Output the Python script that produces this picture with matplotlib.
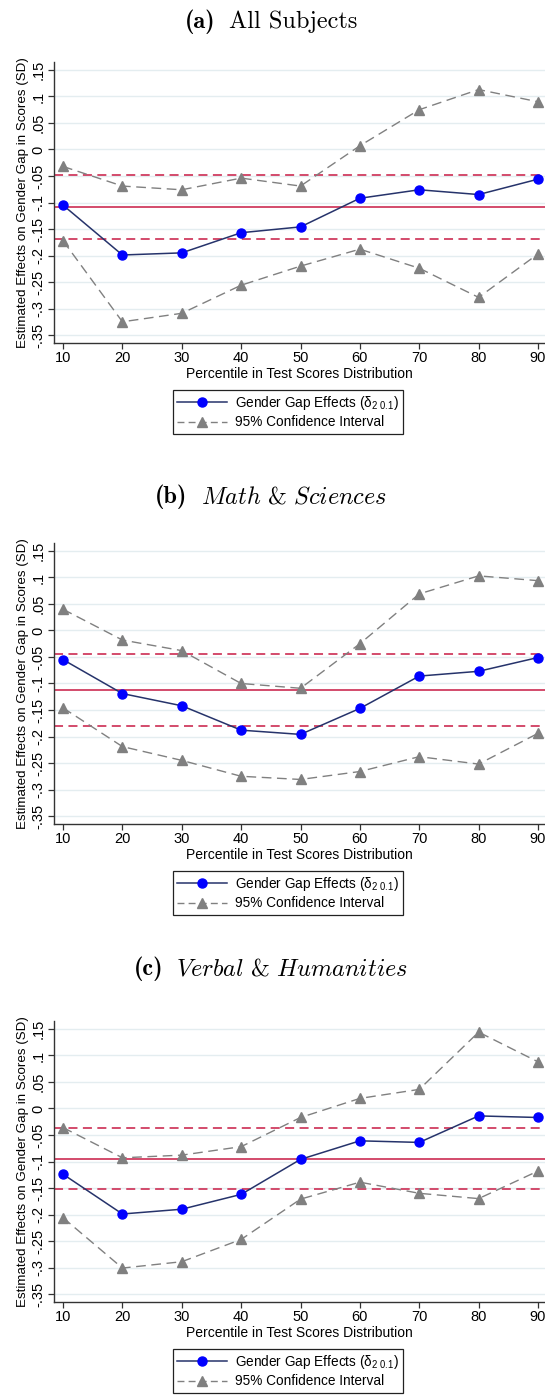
import matplotlib
matplotlib.use("Agg")
import matplotlib.pyplot as plt
from matplotlib.lines import Line2D

plt.rcParams['font.family'] = ['Liberation Sans', 'DejaVu Sans']
plt.rcParams['mathtext.fontset'] = 'custom'
plt.rcParams['mathtext.rm'] = 'Liberation Sans'
plt.rcParams['mathtext.it'] = 'Liberation Sans:italic'

percentiles = [10, 20, 30, 40, 50, 60, 70, 80, 90]
yticks = [0.15, 0.1, 0.05, 0, -0.05, -0.1, -0.15, -0.2, -0.25, -0.3, -0.35]
ytick_labels = [".15", ".1", ".05", "0", "-.05", "-.1", "-.15", "-.2", "-.25", "-.3", "-.35"]

title_tags = ["(a)", "(b)", "(c)"]
title_names = ["All Subjects", "Math & Sciences", "Verbal & Humanities"]
title_italic = [False, True, True]

# Panel (a) All Subjects
a_est = [-0.105, -0.199, -0.195, -0.157, -0.146, -0.092, -0.076, -0.085, -0.056]
a_upper = [-0.032, -0.069, -0.076, -0.054, -0.069, 0.007, 0.075, 0.113, 0.090]
a_lower = [-0.172, -0.325, -0.309, -0.256, -0.220, -0.188, -0.224, -0.279, -0.197]
a_ref = [-0.048, -0.108, -0.168]  # upper dashed, solid mean, lower dashed

# Panel (b) Math & Sciences
b_est = [-0.055, -0.119, -0.142, -0.188, -0.196, -0.147, -0.086, -0.077, -0.051]
b_upper = [0.040, -0.018, -0.038, -0.100, -0.109, -0.025, 0.069, 0.103, 0.094]
b_lower = [-0.146, -0.219, -0.245, -0.275, -0.281, -0.266, -0.238, -0.252, -0.194]
b_ref = [-0.045, -0.113, -0.181]

# Panel (c) Verbal & Humanities
c_est = [-0.124, -0.199, -0.190, -0.162, -0.096, -0.061, -0.064, -0.014, -0.017]
c_upper = [-0.036, -0.093, -0.088, -0.072, -0.017, 0.019, 0.036, 0.144, 0.088]
c_lower = [-0.206, -0.301, -0.289, -0.247, -0.171, -0.139, -0.160, -0.170, -0.118]
c_ref = [-0.036, -0.095, -0.152]

panels = [(a_est, a_upper, a_lower, a_ref),
          (b_est, b_upper, b_lower, b_ref),
          (c_est, c_upper, c_lower, c_ref)]

W, H = 545, 1395
fig = plt.figure(figsize=(W / 100, H / 100), dpi=100)
renderer = fig.canvas.get_renderer()

axes_tops = [62, 543, 1021]
ax_left, ax_right = 54, 545
ax_h = 281
title_y = [22, 497, 969]

line_col = '#26336b'
marker_col = '#0000ff'
ci_col = '#808080'
ref_col = '#d03d60'
grid_col = '#e4edf0'


def draw_title(yc_px, tag, name, italic, fs=17.5, gap_px=13, center_px=271):
    t1 = fig.text(0, 1 - yc_px / H, tag, fontfamily='cmb10', fontsize=fs,
                  ha='left', va='center')
    if italic:
        s = "$" + name.replace(" ", r"\ ") + "$"
        t2 = fig.text(0, 1 - yc_px / H, s, fontsize=fs, math_fontfamily='cm',
                      ha='left', va='center')
    else:
        t2 = fig.text(0, 1 - yc_px / H, name, fontfamily='cmr10', fontsize=fs,
                      ha='left', va='center')
    w1 = t1.get_window_extent(renderer).width
    w2 = t2.get_window_extent(renderer).width
    total = w1 + gap_px + w2
    x0 = center_px - total / 2
    t1.set_x(x0 / W)
    t2.set_x((x0 + w1 + gap_px) / W)


for i, (est, up, lo, ref) in enumerate(panels):
    top = axes_tops[i]
    ax = fig.add_axes([ax_left / W, 1 - (top + ax_h) / H, (ax_right - ax_left) / W, ax_h / H])
    ax.set_xlim(8.48, 91.18)
    ax.set_ylim(-0.365, 0.165)
    for yv in yticks:
        ax.axhline(yv, color=grid_col, lw=1.0, zorder=0)
    ax.axhline(ref[0], color=ref_col, lw=1.3, ls=(0, (5, 3)), zorder=1)
    ax.axhline(ref[1], color=ref_col, lw=1.3, ls='-', zorder=1)
    ax.axhline(ref[2], color=ref_col, lw=1.3, ls=(0, (5, 3)), zorder=1)
    ax.plot(percentiles, up, color=ci_col, lw=1.0, ls=(0, (7, 4)), marker='^',
            markersize=7, markerfacecolor=ci_col, markeredgecolor=ci_col, zorder=2)
    ax.plot(percentiles, lo, color=ci_col, lw=1.0, ls=(0, (7, 4)), marker='^',
            markersize=7, markerfacecolor=ci_col, markeredgecolor=ci_col, zorder=2)
    ax.plot(percentiles, est, color=line_col, lw=1.1, marker='o', markersize=6.5,
            markerfacecolor=marker_col, markeredgecolor=marker_col, zorder=3)
    ax.set_yticks(yticks)
    ax.set_yticklabels(ytick_labels, rotation=90, va='center', fontsize=10.5)
    ax.set_xticks(percentiles)
    ax.set_xticklabels([str(p) for p in percentiles], fontsize=10.5)
    ax.tick_params(axis='both', direction='out', length=4, width=0.9, color='#333333', pad=2)
    for s in ['top', 'right']:
        ax.spines[s].set_visible(False)
    for s in ['left', 'bottom']:
        ax.spines[s].set_color('#333333')
        ax.spines[s].set_linewidth(1.0)
    ax.set_facecolor('white')
    ax.set_xlabel("Percentile in Test Scores Distribution", fontsize=10, labelpad=1)
    ax.set_ylabel("Estimated Effects on Gender Gap in Scores (SD)", fontsize=9.6, labelpad=2)
    draw_title(title_y[i], title_tags[i], title_names[i], title_italic[i])

    handles = [Line2D([], [], color=line_col, lw=1.1, marker='o', markersize=6.5,
                      markerfacecolor=marker_col, markeredgecolor=marker_col),
               Line2D([], [], color=ci_col, lw=1.0, ls=(0, (5, 3)), marker='^', markersize=7,
                      markerfacecolor=ci_col, markeredgecolor=ci_col)]
    labels = ["Gender Gap Effects (δ$_{2\\ 0.1}$)", "95% Confidence Interval"]
    leg_top = top + ax_h + 47
    fig.legend(handles, labels, loc='upper center',
               bbox_to_anchor=(288 / W, 1 - leg_top / H), fontsize=9.8, frameon=True,
               fancybox=False, edgecolor='#222222', framealpha=1, handlelength=3.7,
               borderpad=0.3, labelspacing=0.25, handletextpad=0.6, borderaxespad=0)
    fig.legends[-1].get_frame().set_linewidth(0.9)

fig.savefig("out.png", dpi=100, facecolor='white')
